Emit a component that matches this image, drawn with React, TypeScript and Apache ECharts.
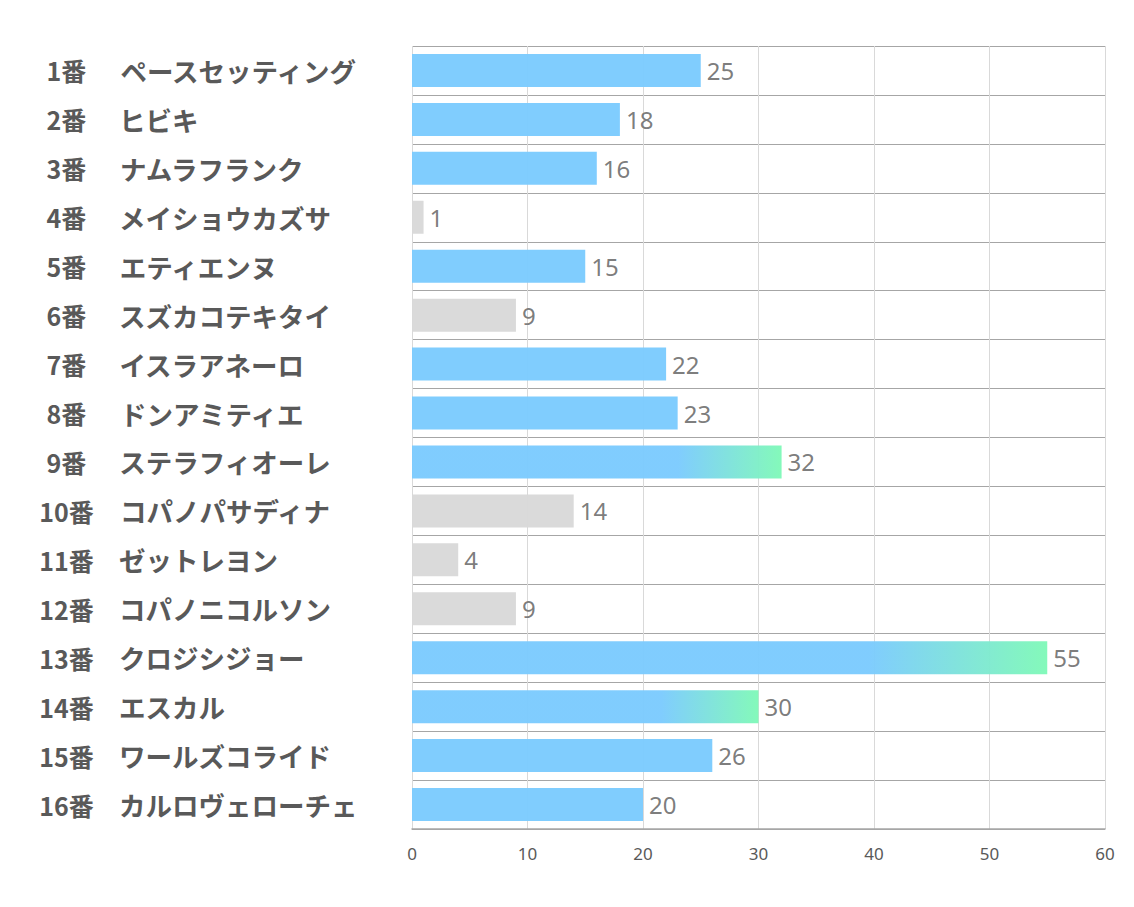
import React, { useEffect, useRef } from "react";
import * as echarts from "echarts";

const numbers = ["1番", "2番", "3番", "4番", "5番", "6番", "7番", "8番", "9番", "10番", "11番", "12番", "13番", "14番", "15番", "16番"];
const names = [
  "ペースセッティング", "ヒビキ", "ナムラフランク", "メイショウカズサ", "エティエンヌ", "スズカコテキタイ",
  "イスラアネーロ", "ドンアミティエ", "ステラフィオーレ", "コパノパサディナ", "ゼットレヨン", "コパノニコルソン",
  "クロジシジョー", "エスカル", "ワールズコライド", "カルロヴェローチェ",
];
const values = [25, 18, 16, 1, 15, 9, 22, 23, 32, 14, 4, 9, 55, 30, 26, 20];
const xTicks = { min: 0, max: 60, interval: 10 };

const BLUE = "#7ccbfe";
const GREEN = "#80f9b8";
const GRAY = "#d9d9d9";

export default function App() {
  const ref = useRef<HTMLDivElement>(null);
  useEffect(() => {
    if (!ref.current) return;
    const chart = echarts.init(ref.current, undefined, { renderer: "svg" });
    const categories = numbers.map((n, i) => n + "|" + names[i]);
    const data = values.map((v) => {
      let color: any = BLUE;
      if (v < 15) color = GRAY;
      else if (v >= 30)
        color = new echarts.graphic.LinearGradient(0, 0, 1, 0, [
          { offset: 0, color: BLUE },
          { offset: 0.72, color: BLUE },
          { offset: 1, color: GREEN },
        ]);
      return { value: v, itemStyle: { color, opacity: 0.97 } };
    });
    const labelFont = {
      fontWeight: "bold",
      color: "#595959",
      fontFamily: "Noto Sans CJK JP",
    };
    chart.setOption({
      animation: false,
      backgroundColor: "#ffffff",
      grid: { left: 404, right: 21, top: 38, bottom: 70 },
      xAxis: {
        type: "value",
        min: xTicks.min,
        max: xTicks.max,
        interval: xTicks.interval,
        axisLine: { show: true, lineStyle: { color: "#a6a6a6", width: 1.5 } },
        axisTick: { show: false },
        axisLabel: { color: "#595959", fontSize: 17, margin: 16, fontFamily: "Noto Sans" },
        splitLine: { show: true, lineStyle: { color: "#d9d9d9", width: 1 } },
      },
      yAxis: {
        type: "category",
        inverse: true,
        data: categories,
        axisLine: { show: false },
        axisTick: { show: false },
        splitLine: { show: true, lineStyle: { color: "#a6a6a6", width: 1.2 } },
        axisLabel: {
          align: "left",
          margin: 372,
          formatter: (val: string) => {
            const [n, nm] = val.split("|");
            return "{num|" + n + "}{name|" + nm + "}";
          },
          rich: {
            num: { ...labelFont, fontSize: 25, width: 53, align: "right" },
            name: { ...labelFont, fontSize: 26.5, padding: [0, 0, 0, 26] },
          },
        },
      },
      series: [
        {
          type: "bar",
          data,
          barWidth: 33,
          label: {
            show: true,
            position: "right",
            distance: 6,
            color: "#7a7a7a",
            fontSize: 24,
            fontFamily: "Noto Sans",
          },
        },
      ],
    });
    return () => chart.dispose();
  }, []);
  return <div ref={ref} style={{ width: 1118, height: 891 }} />;
}
